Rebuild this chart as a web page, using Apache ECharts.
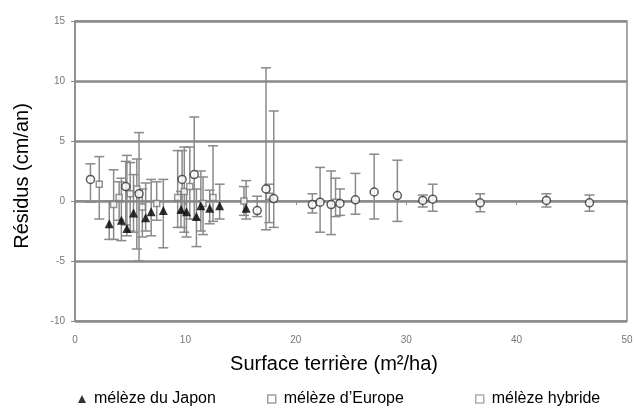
<!DOCTYPE html>
<html>
<head>
<meta charset="utf-8">
<script src="https://cdn.jsdelivr.net/npm/echarts@6/dist/echarts.min.js"></script>
<style>
html,body{margin:0;padding:0;background:#fff}
#chart{width:637px;height:418px}
</style>
</head>
<body>
<div id="chart"></div>
<script>
// residus par espece : x = surface terriere, y = residu, lo/hi = bornes de l'intervalle
var japonX  = [3.1, 4.2, 4.7, 5.3, 6.4, 6.9, 8.0, 9.6, 10.1, 11.0, 11.4, 12.2, 13.1, 15.5];
var japonY  = [-1.9, -1.6, -2.3, -1.0, -1.4, -0.9, -0.8, -0.7, -0.9, -1.3, -0.4, -0.6, -0.4, -0.6];
var japonLo = [-3.2, -3.3, -2.9, -2.6, -2.5, -2.9, -3.9, -2.2, -3.0, -3.8, -2.5, -1.9, -1.5, -1.5];
var japonHi = [0.0, 1.9, 3.8, 2.2, 1.5, 1.8, 1.8, 0.8, 1.0, 1.0, 2.5, 0.9, 1.4, 1.7];

var europeX  = [1.4, 4.6, 5.8, 9.7, 10.8, 16.5, 17.3, 18.0, 21.5, 22.2, 23.2, 24.0, 25.4, 27.1, 29.2, 31.5, 32.4, 36.7, 42.7, 46.6];
var europeY  = [1.8, 1.2, 0.6, 1.8, 2.2, -0.8, 1.0, 0.2, -0.3, -0.1, -0.3, -0.2, 0.1, 0.75, 0.45, 0.05, 0.15, -0.15, 0.05, -0.15];
var europeLo = [-0.1, -2.0, -5.0, -0.9, -1.5, -1.3, -2.4, -2.2, -1.0, -2.6, -2.8, -1.2, -1.1, -1.5, -1.7, -0.5, -0.85, -0.9, -0.5, -0.85];
var europeHi = [3.1, 3.3, 5.7, 4.2, 7.0, 0.4, 11.1, 7.5, 0.6, 2.8, 2.5, 1.0, 2.3, 3.9, 3.4, 0.5, 1.4, 0.6, 0.6, 0.5];

var hybrideX  = [2.2, 3.5, 4.0, 5.0, 5.6, 6.1, 7.4, 9.3, 9.9, 10.4, 11.6, 12.5, 15.3, 17.6, 23.6];
var hybrideY  = [1.4, -0.3, 0.3, 0.6, 1.0, -0.5, -0.2, 0.3, 0.8, 1.2, -0.2, 0.3, 0.0, 0.4, -0.1];
var hybrideLo = [-1.5, -3.2, -1.6, -2.5, -4.0, -3.0, -1.6, -2.2, -2.6, -1.5, -2.8, -1.7, -1.2, -1.8, -1.3];
var hybrideHi = [3.7, 2.6, 1.6, 3.2, 3.5, 1.0, 1.6, 4.2, 4.5, 4.5, 2.0, 4.6, 1.2, 1.4, 1.9];

var xTicks = [0, 10, 20, 30, 40, 50];
var yTicks = [-10, -5, 0, 5, 10, 15];

function pts(xs, ys) {
  return xs.map(function (x, i) { return [x, ys[i]]; });
}
function bars(xs, lo, hi) {
  return xs.map(function (x, i) { return [x, lo[i], hi[i]]; });
}

function renderBar(params, api) {
  var x = api.value(0);
  var top = api.coord([x, api.value(2)]);
  var bot = api.coord([x, api.value(1)]);
  var w = 5;
  var st = { stroke: '#8a8a8a', lineWidth: 1.5 };
  return {
    type: 'group',
    children: [
      { type: 'line', shape: { x1: top[0], y1: top[1], x2: bot[0], y2: bot[1] }, style: st },
      { type: 'line', shape: { x1: top[0] - w, y1: top[1], x2: top[0] + w, y2: top[1] }, style: st },
      { type: 'line', shape: { x1: bot[0] - w, y1: bot[1], x2: bot[0] + w, y2: bot[1] }, style: st }
    ]
  };
}

function leg(name, left, icon, style) {
  return {
    bottom: 6, left: left,
    itemWidth: 8, itemHeight: 8,
    textStyle: { fontSize: 16, color: '#000', padding: [0, 0, 0, 3] },
    data: [{ name: name, icon: icon, itemStyle: style }]
  };
}

var chart = echarts.init(document.getElementById('chart'));
chart.setOption({
  animation: false,
  textStyle: { fontFamily: 'Liberation Sans, Arial, sans-serif' },
  grid: {
    left: 75, right: 10, top: 21, bottom: 97,
    show: true, borderColor: '#8a8a8a', borderWidth: 1.5
  },
  legend: [
    leg('mélèze du Japon', 73, 'triangle', { color: '#000' }),
    leg('mélèze d\u2019Europe', 262, 'rect', { color: '#fff', borderColor: '#888', borderWidth: 1.5 }),
    leg('mélèze hybride', 470, 'rect', { color: '#fff', borderColor: '#999', borderWidth: 1.5 })
  ],
  xAxis: {
    type: 'value', min: xTicks[0], max: xTicks[xTicks.length - 1], interval: 10,
    name: 'Surface terrière (m²/ha)', nameLocation: 'middle', nameGap: 33,
    nameTextStyle: { fontSize: 20, color: '#000', padding: [0, 34, 0, 0] },
    axisLine: { show: true, lineStyle: { color: '#8a8a8a', width: 1.5 } },
    axisTick: { show: true, length: 4, lineStyle: { color: '#8a8a8a' } },
    axisLabel: { fontSize: 10, color: '#777', margin: 14 },
    splitLine: { show: false }
  },
  yAxis: {
    type: 'value', min: yTicks[0], max: yTicks[yTicks.length - 1], interval: 5,
    name: 'Résidus (cm/an)', nameLocation: 'middle', nameGap: 43,
    nameTextStyle: { fontSize: 20, color: '#000', padding: [0, 10, 0, 0] },
    axisLine: { show: true, lineStyle: { color: '#8a8a8a', width: 1.5 } },
    axisTick: { show: true, length: 4, lineStyle: { color: '#8a8a8a' } },
    axisLabel: { fontSize: 10, color: '#777', margin: 10 },
    splitLine: { show: true, lineStyle: { color: '#8a8a8a', width: 2.5 } }
  },
  series: [
    { name: 'bars-hybride', type: 'custom', renderItem: renderBar, data: bars(hybrideX, hybrideLo, hybrideHi), z: 2 },
    { name: 'bars-europe', type: 'custom', renderItem: renderBar, data: bars(europeX, europeLo, europeHi), z: 2 },
    { name: 'bars-japon', type: 'custom', renderItem: renderBar, data: bars(japonX, japonLo, japonHi), z: 2 },
    {
      name: 'mélèze hybride', type: 'scatter', symbol: 'rect', symbolSize: 6,
      itemStyle: { color: '#fff', borderColor: '#777', borderWidth: 1.5 },
      data: pts(hybrideX, hybrideY), z: 3
    },
    {
      name: 'mélèze d\u2019Europe', type: 'scatter', symbol: 'circle', symbolSize: 8,
      itemStyle: { color: '#fff', borderColor: '#333', borderWidth: 1.5 },
      data: pts(europeX, europeY), z: 4
    },
    {
      name: 'mélèze du Japon', type: 'scatter', symbol: 'triangle', symbolSize: 9,
      itemStyle: { color: '#000' },
      data: pts(japonX, japonY), z: 5
    }
  ]
});
</script>
</body>
</html>
